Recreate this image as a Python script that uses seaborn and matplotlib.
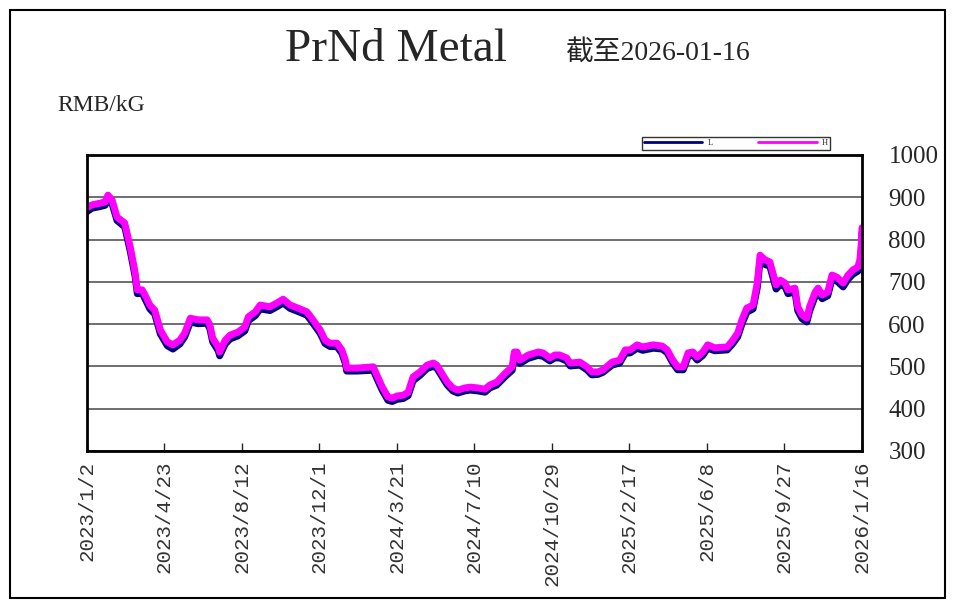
import pandas as pd
import matplotlib
matplotlib.use("Agg")
import matplotlib.pyplot as plt
import seaborn as sns
from matplotlib.patches import Rectangle
from matplotlib.lines import Line2D

# PrNd metal price, RMB/kG
dates = [
    "2023-01-02", "2023-01-09", "2023-01-21", "2023-01-28", "2023-02-01", "2023-02-07", "2023-02-14", "2023-02-25", "2023-03-05", "2023-03-12",
    "2023-03-15", "2023-03-22", "2023-03-26", "2023-04-02", "2023-04-09", "2023-04-17", "2023-04-27", "2023-05-05", "2023-05-15", "2023-05-22",
    "2023-05-30", "2023-06-10", "2023-06-23", "2023-06-27", "2023-07-01", "2023-07-09", "2023-07-11", "2023-07-19", "2023-07-26", "2023-08-06",
    "2023-08-16", "2023-08-21", "2023-08-31", "2023-09-07", "2023-09-21", "2023-10-01", "2023-10-10", "2023-10-20", "2023-10-31", "2023-11-13",
    "2023-11-20", "2023-12-02", "2023-12-09", "2023-12-16", "2023-12-26", "2024-01-02", "2024-01-07", "2024-01-09", "2024-01-24", "2024-02-16",
    "2024-02-21", "2024-02-29", "2024-03-08", "2024-03-14", "2024-03-21", "2024-03-30", "2024-04-06", "2024-04-13", "2024-04-23", "2024-05-03",
    "2024-05-12", "2024-05-17", "2024-05-24", "2024-06-01", "2024-06-09", "2024-06-16", "2024-06-26", "2024-07-04", "2024-07-15", "2024-07-25",
    "2024-08-01", "2024-08-11", "2024-08-23", "2024-09-02", "2024-09-05", "2024-09-09", "2024-09-13", "2024-09-25", "2024-10-09", "2024-10-16",
    "2024-10-26", "2024-11-02", "2024-11-09", "2024-11-19", "2024-11-24", "2024-12-08", "2024-12-18", "2024-12-25", "2025-01-03", "2025-01-10",
    "2025-01-23", "2025-02-03", "2025-02-11", "2025-02-18", "2025-02-28", "2025-03-08", "2025-03-23", "2025-04-05", "2025-04-12", "2025-04-20",
    "2025-04-27", "2025-05-05", "2025-05-12", "2025-05-19", "2025-05-25", "2025-06-02", "2025-06-09", "2025-06-19", "2025-07-07", "2025-07-15",
    "2025-07-22", "2025-07-28", "2025-08-04", "2025-08-13", "2025-08-19", "2025-08-23", "2025-08-30", "2025-09-06", "2025-09-10", "2025-09-15",
    "2025-09-21", "2025-09-28", "2025-10-02", "2025-10-12", "2025-10-16", "2025-10-22", "2025-10-29", "2025-11-02", "2025-11-10", "2025-11-14",
    "2025-11-20", "2025-11-28", "2025-12-04", "2025-12-11", "2025-12-20", "2025-12-27", "2026-01-03", "2026-01-10", "2026-01-13", "2026-01-15", "2026-01-16",
]

high = [
    875, 882, 886, 889, 905, 893, 853, 839, 782, 721,
    681, 681, 669, 645, 633, 586, 558, 551, 562, 579,
    614, 610, 610, 598, 567, 546, 534, 562, 574, 581,
    593, 617, 629, 645, 641, 650, 659, 645, 638, 629,
    614, 586, 562, 555, 555, 539, 515, 496, 496, 499,
    480, 451, 428, 425, 430, 432, 439, 475, 487, 503,
    508, 503, 484, 463, 449, 444, 449, 451, 449, 446,
    456, 463, 484, 499, 534, 534, 515, 527, 534, 532,
    520, 527, 527, 520, 508, 510, 499, 487, 487, 492,
    510, 515, 539, 539, 551, 546, 551, 548, 539, 515,
    499, 499, 532, 534, 522, 534, 551, 544, 546, 562,
    579, 610, 638, 645, 697, 763, 752, 747, 723, 693,
    704, 697, 681, 685, 641, 622, 614, 641, 676, 685,
    669, 676, 716, 711, 697, 716, 728, 735, 752, 790, 828,
]

low = [
    866, 874, 878, 881, 896, 884, 845, 830, 772, 712,
    672, 673, 660, 636, 624, 577, 549, 541, 553, 570,
    605, 601, 602, 589, 558, 537, 525, 553, 565, 572,
    584, 608, 620, 636, 632, 641, 650, 637, 630, 621,
    606, 578, 554, 547, 547, 531, 507, 489, 489, 491,
    472, 443, 420, 417, 422, 424, 431, 466, 479, 495,
    500, 496, 477, 456, 442, 437, 442, 444, 442, 439,
    449, 456, 476, 491, 525, 526, 507, 519, 526, 524,
    513, 520, 520, 513, 501, 503, 492, 480, 481, 486,
    503, 508, 531, 532, 543, 538, 543, 541, 532, 508,
    492, 492, 524, 527, 515, 526, 543, 537, 539, 554,
    570, 600, 628, 636, 686, 750, 741, 737, 713, 683,
    694, 688, 672, 676, 632, 613, 605, 631, 666, 676,
    660, 667, 706, 702, 688, 706, 718, 725, 740, 775, 815,
]

tick_labels = ["2023/1/2", "2023/4/23", "2023/8/12", "2023/12/1", "2024/3/21", "2024/7/10",
               "2024/10/29", "2025/2/17", "2025/6/8", "2025/9/27", "2026/1/16"]

df = pd.DataFrame({"date": pd.to_datetime(dates), "L": low, "H": high})

sns.set_style("white")
plt.rcParams["font.family"] = ["Liberation Serif", "Noto Sans CJK SC", "DejaVu Sans"]

fig = plt.figure(figsize=(9.55, 6.11), dpi=100)
ax = fig.add_axes([0.0911, 0.2619, 0.8115, 0.4845])

sns.lineplot(data=df, x="date", y="L", ax=ax, color="#000080", lw=5, solid_capstyle="round")
sns.lineplot(data=df, x="date", y="H", ax=ax, color="#ff00ff", lw=5, solid_capstyle="round")

ax.set_ylim(300, 1000)
ax.set_yticks(range(300, 1001, 100))
ax.set_xlim(pd.Timestamp("2023-01-02"), pd.Timestamp("2026-01-16"))
ticks = pd.date_range("2023-01-02", periods=len(tick_labels), freq="111D")
ax.set_xticks(ticks)
ax.set_xticklabels(tick_labels, rotation=90, family="Liberation Mono", fontsize=15, color="#333333")
ax.set_xlabel("")
ax.set_ylabel("")

ax.yaxis.tick_right()
ax.tick_params(axis="y", length=0, pad=19, labelsize=18)
ax.tick_params(axis="x", direction="in", length=6, width=1, pad=7, bottom=True)
ax.yaxis.grid(True, color="#555555", lw=1.2)
ax.xaxis.grid(False)
for s in ax.spines.values():
    s.set_color("black")
    s.set_linewidth(2)
    s.set_visible(True)

fig.text(0.415, 0.918, "PrNd Metal", ha="center", va="center", fontsize=34)
fig.text(0.689, 0.914, "截至2026-01-16", ha="center", va="center", fontsize=20)
fig.text(0.0597, 0.828, "RMB/kG", ha="left", va="center", fontsize=17)

handles = [Line2D([], [], color="#000080", lw=2), Line2D([], [], color="#ff00ff", lw=2)]
fig.legend(handles, ["L", "H"], loc="center", bbox_to_anchor=(736 / 955, 1 - 143 / 611),
           ncol=2, fontsize=6, frameon=True, fancybox=False, edgecolor="black",
           handlelength=7, columnspacing=5.5, borderpad=0.3, handletextpad=0.6)

fig.patches.append(Rectangle((10 / 955, 13 / 611), 935 / 955, 588 / 611, transform=fig.transFigure,
                             fill=False, edgecolor="black", lw=1.5))

fig.savefig("out.png", dpi=100)
